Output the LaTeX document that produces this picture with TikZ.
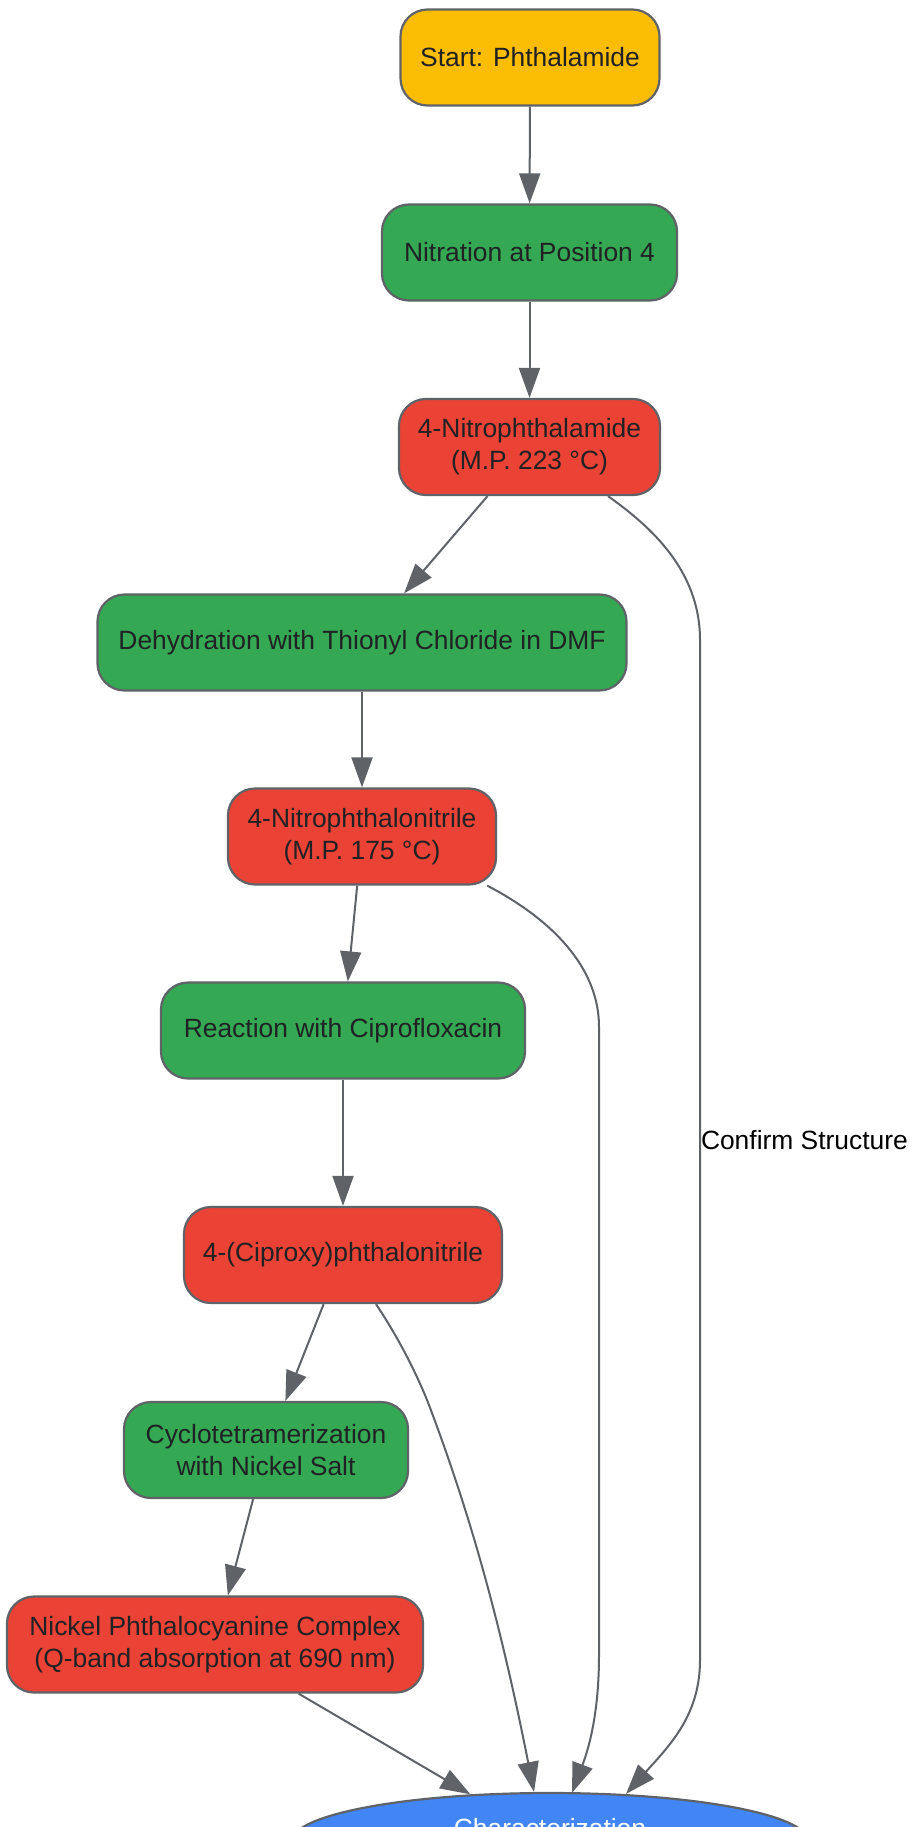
\documentclass[tikz,border=0pt]{standalone}
\usepackage{fontspec}
\setmainfont{Liberation Sans}
\usetikzlibrary{arrows.meta,shapes.geometric}
\definecolor{cyellow}{HTML}{FBBC04}
\definecolor{cgreen}{HTML}{34A853}
\definecolor{cred}{HTML}{EA4335}
\definecolor{cblue}{HTML}{4285F4}
\definecolor{cborder}{HTML}{5F6368}
\definecolor{ctext}{HTML}{202124}
\begin{document}
\begin{tikzpicture}[x=1pt,y=-1pt,
  txt/.style={font=\fontsize{26.4pt}{31.7pt}\selectfont},
  box/.style={txt, rectangle, rounded corners=27pt, draw=cborder, line width=2.2pt,
    text=ctext, align=center, inner sep=0pt, minimum height=96pt},
  startbox/.style={box, fill=cyellow},
  stepbox/.style={box, fill=cgreen},
  prodbox/.style={box, fill=cred},
  endbox/.style={txt, ellipse, draw=cborder, line width=2.2pt, fill=cblue, text=white,
    inner sep=0pt, minimum width=516pt, minimum height=96pt},
  conn/.style={draw=cborder, line width=2pt, -{Triangle[length=30pt,width=21pt]}},
  lbl/.style={txt, text=black, inner sep=0pt}
]
\useasboundingbox (0,0) rectangle (911,1827);
\clip (0,0) rectangle (911,1827);
\fill[white] (0,0) rectangle (911,1827);

\node[startbox, minimum width=259pt] (start) at (530,57.5) {Start: Phthalamide};
\node[stepbox, minimum width=295pt] (nitr) at (529.5,252.5) {Nitration at Position 4};
\node[prodbox, minimum width=261pt] (nphal) at (529.5,447) {4-Nitrophthalamide\\(M.P. 223 °C)};
\node[stepbox, minimum width=529pt] (dehyd) at (362,642.5) {Dehydration with Thionyl Chloride in DMF};
\node[prodbox, minimum width=268pt] (nnit) at (362,836.5) {4-Nitrophthalonitrile\\(M.P. 175 °C)};
\node[stepbox, minimum width=364pt] (react) at (343,1030.5) {Reaction with Ciprofloxacin};
\node[prodbox, minimum width=318pt] (cipr) at (343,1255) {4-(Ciproxy)phthalonitrile};
\node[stepbox, minimum width=284pt] (cyclo) at (266,1450) {Cyclotetramerization\\with Nickel Salt};
\node[prodbox, minimum width=416pt] (nick) at (215,1644.5) {Nickel Phthalocyanine Complex\\(Q-band absorption at 690 nm)};
\node[endbox] (char) at (550,1841) {\smash{\raisebox{4pt}{Characterization}}};

\draw[conn] (start) -- (nitr);
\draw[conn] (nitr) -- (nphal);
\draw[conn] (nphal) -- (dehyd);
\draw[conn] (dehyd) -- (nnit);
\draw[conn] (nnit) -- (react);
\draw[conn] (react) -- (cipr);
\draw[conn] (cipr) -- (cyclo);
\draw[conn] (cyclo) -- (nick);
\draw[conn] (nick) -- (char);

\draw[conn] ([xshift=78.5pt]nphal.south) .. controls (650,526) and (700,570) .. (700,640)
  -- node[lbl, pos=0.49, anchor=west] (confirm) {Confirm Structure} (700,1660)
  .. controls (700,1715) and (670,1745) .. ([xshift=76pt,yshift=-2pt]char.north);
\draw[conn] ([xshift=-10pt]nnit.south east) .. controls (540,913) and (599,960) .. (599,1027)
  -- (599,1655) .. controls (599,1710) and (590,1745) .. ([xshift=22pt,yshift=-1pt]char.north);
\draw[conn] ([xshift=33pt]cipr.south) .. controls (400,1340) and (420,1380) .. (432,1413)
  .. controls (470,1515) and (500,1620) .. ([xshift=-16pt]char.north);
\end{tikzpicture}
\end{document}
